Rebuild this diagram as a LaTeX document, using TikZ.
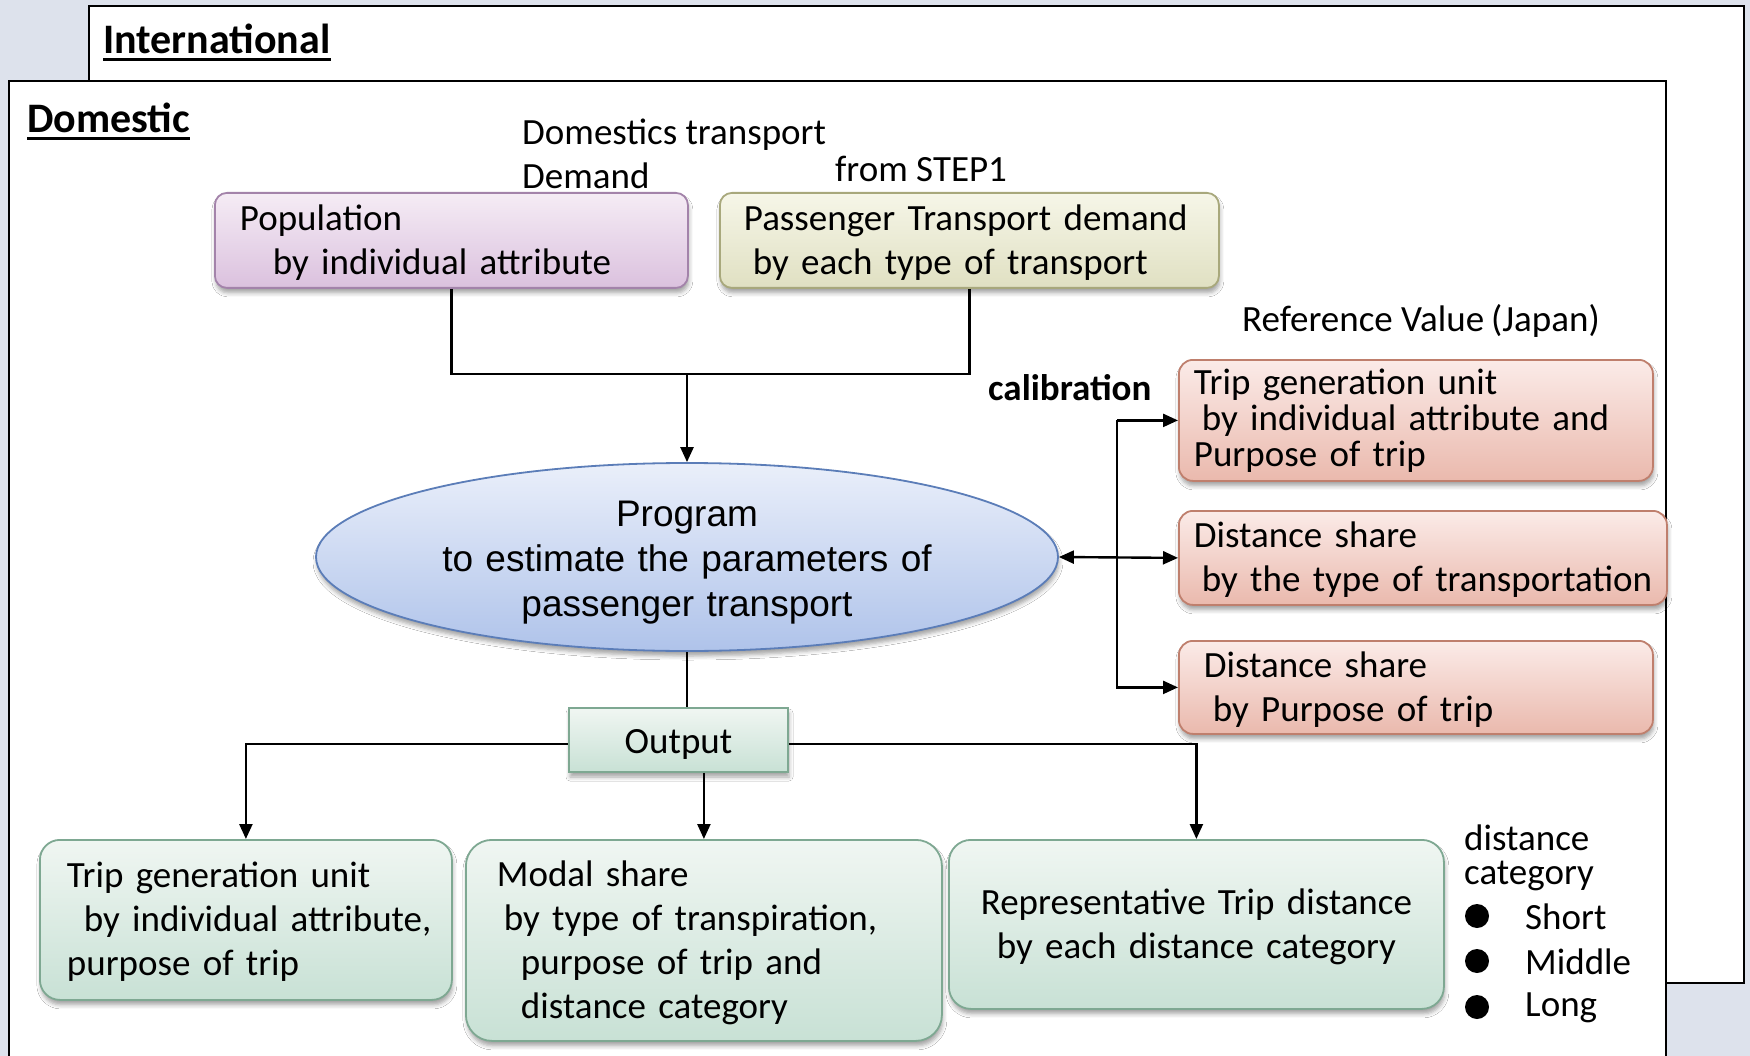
\documentclass[tikz,border=0pt]{standalone}
\usepackage{fontspec}
\setmainfont{Carlito}
\newfontfamily\arialf{Liberation Sans}
\usetikzlibrary{arrows.meta,shapes.geometric,shadows.blur}
\hyphenpenalty=10000
\exhyphenpenalty=10000
\newcommand{\topgap}[1]{\par\vspace*{#1}\prevdepth=-1000pt\relax}
\definecolor{bgG}{HTML}{DDE2EC}
\definecolor{purT}{HTML}{F5ECF5}
\definecolor{purB}{HTML}{DBC1DE}
\definecolor{purD}{HTML}{A383AA}
\definecolor{olvT}{HTML}{F6F6E8}
\definecolor{olvB}{HTML}{E0E0C2}
\definecolor{olvD}{HTML}{A8A87C}
\definecolor{redT}{HTML}{FBEBE8}
\definecolor{redB}{HTML}{EAB9AD}
\definecolor{redD}{HTML}{BF7F6D}
\definecolor{grnT}{HTML}{F0F6F2}
\definecolor{grnB}{HTML}{C8E1D5}
\definecolor{grnD}{HTML}{7EA892}
\definecolor{bluT}{HTML}{EAEFFA}
\definecolor{bluB}{HTML}{AFC3EA}
\definecolor{bluD}{HTML}{5B7DB8}
\begin{document}
\begin{tikzpicture}[x=1pt,y=-1pt,
  conn/.style={line width=2.4pt},
  arr/.style={conn,-{Triangle[length=15pt,width=13pt]}},
  dblarr/.style={conn,{Triangle[length=15pt,width=13pt]}-{Triangle[length=15pt,width=13pt]}},
  lbl/.style={font=\fontsize{37}{44}\selectfont, inner sep=0pt, align=left},
  title/.style={font=\bfseries\fontsize{42}{50}\selectfont, inner sep=0pt, anchor=base west},
  shad/.style={blur shadow={shadow xshift=1pt,shadow yshift=-5pt,shadow blur radius=4pt,shadow opacity=35}},
  boxbase/.style={draw, line width=1.8pt, anchor=north west, inner ysep=0pt, inner xsep=4pt, align=left,
    font=\fontsize{37}{44}\selectfont, shad},
  purbox/.style={boxbase, rounded corners=12pt, top color=purT, bottom color=purB, draw=purD},
  olvbox/.style={boxbase, rounded corners=12pt, top color=olvT, bottom color=olvB, draw=olvD},
  redbox/.style={boxbase, rounded corners=14pt, top color=redT, bottom color=redB, draw=redD},
  grnbox/.style={boxbase, rounded corners=22pt, top color=grnT, bottom color=grnB, draw=grnD},
  outbox/.style={draw=grnD, line width=1.8pt, top color=grnT, bottom color=grnB, shad,
    font=\fontsize{37}{44}\selectfont, inner sep=0pt, align=center},
  progell/.style={ellipse, draw=bluD, line width=1.8pt, top color=bluT, bottom color=bluB, shad,
    font=\arialf\fontsize{37}{45}\selectfont, align=center, inner xsep=-60pt, inner ysep=-8pt},
  dot/.style={circle, fill=black, minimum size=24pt, inner sep=0pt}
]
\useasboundingbox (0,0) rectangle (1750,1056);
\fill[bgG] (0,0) rectangle (1750,1056);
% International frame
\draw[fill=white, line width=2pt] (89,6) rectangle (1744,983);
\node[title] (intl) at (103,54) {International};
\draw[line width=3pt] ([yshift=-6pt]intl.base west) -- ([yshift=-6pt]intl.base east);
% Domestic frame
\fill[white] (9,81) rectangle (1666,1060);
\draw[line width=2pt] (9,1060) -- (9,81) -- (1666,81) -- (1666,1060);
\node[title] (dom) at (27,133) {Domestic};
\draw[line width=3pt] ([yshift=-6pt]dom.base west) -- ([yshift=-6pt]dom.base east);

% inputs
\node[lbl, anchor=west] (dtd) at (522,154) {Domestics transport\\Demand};
\node[lbl, anchor=west] (fs1) at (835,169) {from STEP1};
\node[purbox, minimum width=473pt, minimum height=95pt, text width=465pt] (pop) at (214,192)
  {\topgap{5pt}\hspace*{21pt}Population\\\hspace*{54pt}by individual attribute};
\node[olvbox, minimum width=499pt, minimum height=95pt, text width=491pt] (pas) at (719,192)
  {\topgap{5pt}\hspace*{20pt}Passenger Transport demand\\\hspace*{29pt}by each type of transport};

% program
\node[progell, minimum width=742pt, minimum height=188pt, text width=560pt] (prog) at (687,557)
  {\topgap{11pt}Program\\to estimate the parameters of\\passenger transport};

\coordinate (j1) at (687,374);
\draw[conn] (pop.south) |- (j1) -| (pas.south);
\draw[arr] (j1) -- (prog.north);

% reference values
\node[lbl, anchor=west] (refv) at (1242,321) {Reference Value\hspace{7pt}(Japan)};
\node[lbl, anchor=west, font=\bfseries\fontsize{37}{44}\selectfont] (calib) at (988,388) {calibration};
\node[redbox, minimum width=474pt, minimum height=121pt, text width=466pt,
  font=\fontsize{37}{36}\selectfont] (r1) at (1178,359)
  {\hspace*{11pt}Trip generation unit\\\hspace*{19pt}by individual attribute and\\\hspace*{11pt}Purpose of trip};
\node[redbox, minimum width=488pt, minimum height=94pt, text width=480pt] (r2) at (1178,510)
  {\topgap{4pt}\hspace*{11pt}Distance share\\\hspace*{19pt}by the type of transportation};
\node[redbox, minimum width=474pt, minimum height=93pt, text width=466pt] (r3) at (1178,640)
  {\topgap{5pt}\hspace*{21pt}Distance share\\\hspace*{30pt}by Purpose of trip};

\coordinate (vc) at (1117,420);
\draw[dblarr] (prog.east) -- (r2.west);
\draw[arr] (vc |- r1.west) -- (r1.west);
\draw[arr] (vc |- r1.west) |- (r3.west);

% output
\node[outbox, minimum width=219pt, minimum height=64pt, text width=200pt] (out) at (678.5,740) {\topgap{8pt}Output};
\draw[conn] (prog.south) -- (prog.south |- out.north);

\node[grnbox, rounded corners=20pt, minimum width=412pt, minimum height=160pt, text width=404pt] (b1) at (39,839)
  {\topgap{4pt}\hspace*{23pt}Trip generation unit\\\hspace*{40pt}by individual attribute,\\\hspace*{23pt}purpose of trip};
\node[grnbox, rounded corners=26pt, minimum width=476pt, minimum height=201pt, text width=468pt] (b2) at (465,839)
  {\topgap{5pt}\hspace*{27pt}Modal share\\\hspace*{34pt}by type of transpiration,\\\hspace*{51pt}purpose of trip and\\\hspace*{51pt}distance category};
\node[grnbox, minimum width=495pt, minimum height=169pt, text width=487pt, align=center] (b3) at (948,839)
  {\topgap{5pt}Representative Trip distance\\by each distance category};

\draw[arr] ([yshift=-4pt]out.west) -| (b1.north);
\draw[arr] (out.south -| b2.north) -- (b2.north);
\draw[arr] ([yshift=-4pt]out.east) -| (b3.north);

% legend
\node[lbl, anchor=west, font=\fontsize{37}{34}\selectfont] (dcat) at (1464,858) {distance\\category};
\node[dot] (d1) at (1477,916) {};
\node[dot] (d2) at (1477,961) {};
\node[dot] (d3) at (1477,1007) {};
\node[lbl, anchor=west] (ls) at (1525,917) {Short};
\node[lbl, anchor=west] (lm) at (1525,962) {Middle};
\node[lbl, anchor=west] (ll) at (1525,1008) {Long};
\end{tikzpicture}
\end{document}
